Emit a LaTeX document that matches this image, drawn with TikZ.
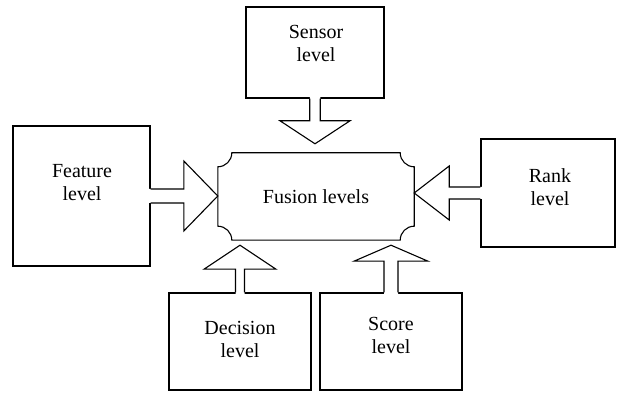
\documentclass[tikz,border=0pt]{standalone}
\usepackage{fontspec}
\setmainfont{Liberation Serif}
\usepackage{tikz}
\usetikzlibrary{positioning,calc}
\tikzstyle{levelBox} = [draw=black, line width=1.1pt, inner sep=0pt, fill=white]
\tikzstyle{levelText} = [align=center, font=\fontsize{20}{23}\selectfont]
\tikzstyle{arrowLine} = [draw=black, line width=1.1pt]
\tikzstyle{fusionLine} = [draw=black, line width=1.1pt]
\newcommand{\notch}{14pt}
% #1 start, #2 tip, #3 shaft half width, #4 head half width, #5 head length
\newcommand{\levelArrow}[5]{
  \fill[white] ($(#1)!-1.5pt!(#2)!#3pt!90:(#2)$) -- ($(#2)!#5pt!(#1)!#3pt!90:(#2)$)
    -- ($(#2)!#5pt!(#1)!#4pt!90:(#2)$) -- (#2) -- ($(#2)!#5pt!(#1)!#4pt!-90:(#2)$)
    -- ($(#2)!#5pt!(#1)!#3pt!-90:(#2)$) -- ($(#1)!-1.5pt!(#2)!#3pt!-90:(#2)$) -- cycle;
  \draw[arrowLine] ($(#1)!#3pt!90:(#2)$) -- ($(#2)!#5pt!(#1)!#3pt!90:(#2)$)
    -- ($(#2)!#5pt!(#1)!#4pt!90:(#2)$) -- (#2) -- ($(#2)!#5pt!(#1)!#4pt!-90:(#2)$)
    -- ($(#2)!#5pt!(#1)!#3pt!-90:(#2)$) -- ($(#1)!#3pt!-90:(#2)$);
}

\begin{document}
\begin{tikzpicture}[x=1pt, y=1pt]
  \useasboundingbox (0,0) rectangle (617,393);
  % level boxes
  \node[levelBox, minimum width=138, minimum height=91] (sensor) at (315,340.5) {};
  \node[levelBox, minimum width=137, minimum height=140] (feature) at (81.5,197) {};
  \node[levelBox, minimum width=134, minimum height=108] (rank) at (548,200) {};
  \node[levelBox, minimum width=142, minimum height=97] (decision) at (240,51.5) {};
  \node[levelBox, minimum width=142, minimum height=97] (score) at (391,51.5) {};

  \node[levelText] (sensorText) at (316,349.5) {Sensor\\level};
  \node[levelText] (featureText) at (82,210) {Feature\\level};
  \node[levelText] (rankText) at (550,205.5) {Rank\\level};
  \node[levelText] (decisionText) at (240,54) {Decision\\level};
  \node[levelText] (scoreText) at (391,57.5) {Score\\level};

  % centre
  \node[levelText, minimum width=196, minimum height=87, inner sep=0pt] (fusion) at (316,196.5) {Fusion levels};

  \coordinate (sensorTip) at ($(sensor.south |- fusion.north)+(0,9)$);
  \coordinate (featureTip) at (fusion.west |- feature.east);
  \coordinate (rankTip) at (fusion.east |- rank.west);
  \coordinate (decisionTip) at ($(decision.north |- fusion.south)+(0,-5)$);
  \coordinate (scoreTip) at ($(score.north |- fusion.south)+(0,-5)$);

  \levelArrow{sensor.south}{sensorTip}{5.25}{35}{23}
  \levelArrow{feature.east}{featureTip}{7}{35}{34}
  \levelArrow{rank.west}{rankTip}{6}{27}{35}
  \levelArrow{decision.north}{decisionTip}{4.5}{36}{24}
  \levelArrow{score.north}{scoreTip}{7}{37}{16}

  \draw[fusionLine] ([xshift=\notch]fusion.north west) -- ([xshift=-\notch]fusion.north east)
    arc[start angle=180, end angle=270, radius=\notch] -- ([yshift=\notch]fusion.south east)
    arc[start angle=90, end angle=180, radius=\notch] -- ([xshift=\notch]fusion.south west)
    arc[start angle=0, end angle=90, radius=\notch] -- ([yshift=-\notch]fusion.north west)
    arc[start angle=270, end angle=360, radius=\notch] -- cycle;
\end{tikzpicture}
\end{document}
